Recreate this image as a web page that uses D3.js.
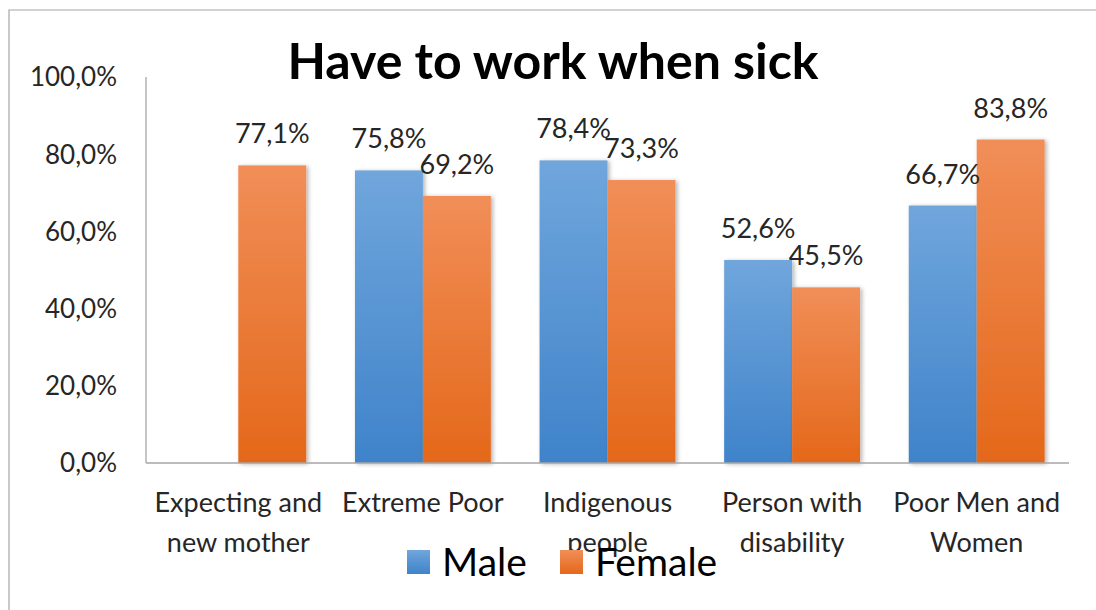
<!DOCTYPE html>
<html>
<head>
<meta charset="utf-8">
<script src="https://cdn.jsdelivr.net/npm/d3@7"></script>
<style>
  html, body { margin: 0; padding: 0; background: #fff; }
  svg { display: block; font-family: Lato, "Open Sans", sans-serif; }
</style>
</head>
<body>
<svg id="chart" width="1096" height="610"></svg>
<script>
// Share of respondents who have to work when sick, by group and sex
const categories = [
  ["Expecting and", "new mother"],
  ["Extreme Poor"],
  ["Indigenous", "people"],
  ["Person with", "disability"],
  ["Poor Men and", "Women"]
];
const seriesNames = ["Male", "Female"];
const maleValues   = [null, 75.8, 78.4, 52.6, 66.7];
const femaleValues = [77.1, 69.2, 73.3, 45.5, 83.8];
const yTicks = [0, 20, 40, 60, 80, 100];
const chartTitle = "Have to work when sick";

const svg = d3.select("#chart");
const W = 1096, H = 610;
const plot = { left: 146, right: 1069, top: 77, bottom: 463 };

const fmt = v => d3.format(".1f")(v).replace(".", ",") + "%";

// defs: vertical gradients and a soft drop shadow for the bars
const defs = svg.append("defs");
const grads = [
  { id: "gMale",   top: "#70a6dc", bottom: "#3f83ca" },
  { id: "gFemale", top: "#f18e58", bottom: "#e4681a" }
];
grads.forEach(g => {
  const lg = defs.append("linearGradient").attr("id", g.id)
    .attr("x1", 0).attr("y1", 0).attr("x2", 0).attr("y2", 1);
  lg.append("stop").attr("offset", "0%").attr("stop-color", g.top);
  lg.append("stop").attr("offset", "100%").attr("stop-color", g.bottom);
});
const sh = defs.append("filter").attr("id", "shadow")
  .attr("x", "-20%").attr("y", "-10%").attr("width", "150%").attr("height", "130%");
sh.append("feDropShadow").attr("dx", 2).attr("dy", 1).attr("stdDeviation", 2)
  .attr("flood-color", "#000").attr("flood-opacity", 0.3);

// chart frame
svg.append("path")
  .attr("d", `M9,${H} L9,10 L${W},10`)
  .attr("fill", "none").attr("stroke", "#a6a6a6").attr("stroke-width", 1.2);

// scales
const x0 = d3.scaleBand().domain(d3.range(categories.length))
  .range([plot.left, plot.right]).paddingInner(0.264).paddingOuter(0.132);
const x1 = d3.scaleBand().domain(seriesNames).range([0, x0.bandwidth()]).padding(0);
const y = d3.scaleLinear().domain([0, 100]).range([plot.bottom, plot.top]);

// y axis labels
const yAxis = d3.axisLeft(y).tickValues(yTicks).tickSize(0).tickPadding(0)
  .tickFormat(d => d3.format(".1f")(d).replace(".", ",") + "%");
const gy = svg.append("g").attr("transform", "translate(117,0)").call(yAxis);
gy.select(".domain").remove();
gy.selectAll("text").attr("font-size", 26).attr("fill", "#262626")
  .attr("font-family", "Lato, sans-serif").attr("dy", "0.34em");

// axis lines
svg.append("line").attr("x1", plot.left).attr("x2", plot.left)
  .attr("y1", plot.top).attr("y2", plot.bottom)
  .attr("stroke", "#a6a6a6").attr("stroke-width", 1.3);

// bars
const rows = categories.map((c, i) => ({ i, values: [maleValues[i], femaleValues[i]] }));
const groups = svg.append("g").selectAll("g").data(rows).join("g")
  .attr("transform", d => `translate(${x0(d.i)},0)`);

const barData = d => seriesNames.map((s, k) => ({ s, v: d.values[k] })).filter(e => e.v != null);

groups.selectAll("rect").data(barData).join("rect")
  .attr("x", e => x1(e.s))
  .attr("y", e => y(e.v))
  .attr("width", x1.bandwidth())
  .attr("height", e => y(0) - y(e.v))
  .attr("fill", e => e.s === "Male" ? "url(#gMale)" : "url(#gFemale)")
  .attr("filter", "url(#shadow)");

svg.append("line").attr("x1", plot.left).attr("x2", plot.right)
  .attr("y1", plot.bottom).attr("y2", plot.bottom)
  .attr("stroke", "#a6a6a6").attr("stroke-width", 1.3);

// value labels
groups.selectAll("text.val").data(barData).join("text")
  .attr("class", "val")
  .attr("x", e => x1(e.s) + x1.bandwidth() / 2)
  .attr("y", e => y(e.v) - 22)
  .attr("text-anchor", "middle")
  .attr("font-size", 27).attr("fill", "#262626")
  .text(e => fmt(e.v));

// category labels
const xl = svg.append("g");
categories.forEach((lines, i) => {
  const t = xl.append("text")
    .attr("x", x0(i) + x0.bandwidth() / 2)
    .attr("text-anchor", "middle")
    .attr("font-size", 27).attr("fill", "#262626");
  lines.forEach((ln, k) => {
    t.append("tspan").attr("x", x0(i) + x0.bandwidth() / 2)
      .attr("y", 512 + k * 40).text(ln);
  });
});

// title
svg.append("text")
  .attr("x", 553).attr("y", 79)
  .attr("text-anchor", "middle")
  .attr("font-size", 50).attr("font-weight", 700).attr("fill", "#000")
  .text(chartTitle);

// legend
const legend = svg.append("g");
const legendItems = [
  { name: "Male", grad: "url(#gMale)", x: 407 },
  { name: "Female", grad: "url(#gFemale)", x: 560 }
];
legendItems.forEach(it => {
  legend.append("rect").attr("x", it.x).attr("y", 550).attr("width", 23).attr("height", 24)
    .attr("fill", it.grad);
  legend.append("text").attr("x", it.x + 35).attr("y", 576)
    .attr("font-size", 39).attr("fill", "#000").text(it.name);
});
</script>
</body>
</html>
